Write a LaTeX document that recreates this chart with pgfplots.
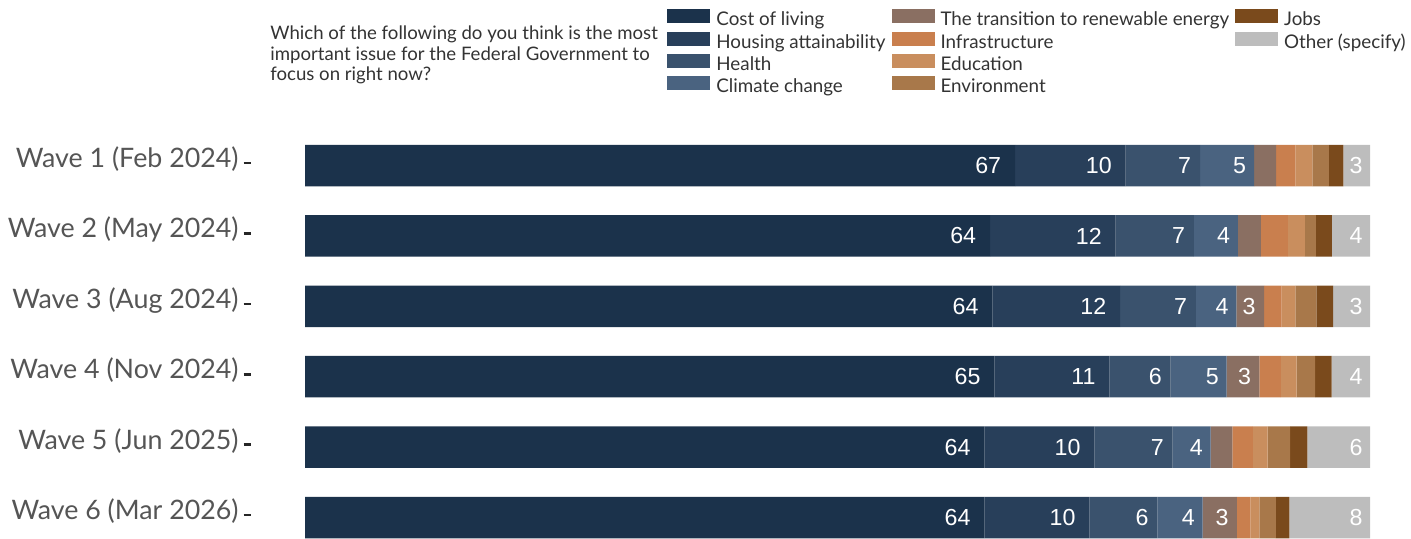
\documentclass[border=0pt]{standalone}
\usepackage{pgfplots}
\pgfplotsset{compat=1.18}
\usepackage{fontspec}
\setmainfont{Lato}
\newfontfamily\labfont{Liberation Sans}
\definecolor{cCost}{HTML}{1B324B}
\definecolor{cHous}{HTML}{283F5A}
\definecolor{cHeal}{HTML}{3A526D}
\definecolor{cClim}{HTML}{4A6380}
\definecolor{cTran}{HTML}{8A6F62}
\definecolor{cInfr}{HTML}{C97F4E}
\definecolor{cEduc}{HTML}{C98E5E}
\definecolor{cEnvi}{HTML}{A8784A}
\definecolor{cJobs}{HTML}{7A4A1C}
\definecolor{cOthe}{HTML}{BDBDBD}
\definecolor{tickgrey}{HTML}{555555}
\definecolor{txt}{HTML}{333333}
\newcommand{\mydash}{\hspace{2.5pt}\textcolor{black!85}{\rule[1.6pt]{3.5pt}{1.3pt}}}
\pgfplotsset{
  lab/.style={nodes near coords, point meta=explicit symbolic,
    visualization depends on=rawx \as \rawxval,
    every node near coord/.append style={anchor=east, xshift=\rawxval*2.6625pt-#1, inner sep=0pt,
      font=\labfont\fontsize{11.6}{12}\selectfont, text=white}},
  sw/.style={fill=#1, draw=none, legend image code/.code={\fill[#1] (0pt,-1.1pt) rectangle (21.5pt,5.9pt);}}
}
\begin{document}
\begin{tikzpicture}
\begin{axis}[
  at={(152.5pt,-7.35pt)}, anchor=south west,
  scale only axis, width=532.5pt, height=211.2pt,
  xbar stacked, bar width=20.75pt,
  xmin=0, xmax=100, ymin=0.5, ymax=6.5, y dir=reverse,
  clip=false,
  axis line style={draw=none}, tick style={draw=none},
  xtick=\empty, ytick={1,2,3,4,5,6},
  yticklabels={{Wave 1 (Feb 2024)\mydash},{Wave 2 (May 2024)\mydash},{Wave 3 (Aug 2024)\mydash},{Wave 4 (Nov 2024)\mydash},{Wave 5 (Jun 2025)\mydash},{Wave 6 (Mar 2026)\mydash}},
  y tick label style={anchor=base east, inner sep=0pt, xshift=-27pt, yshift=-1pt, font=\fontsize{13.4}{15}\selectfont, text=tickgrey},
  legend style={at={(0.3399,1.2871)}, anchor=north west, draw=none, fill=none, inner sep=0pt,
    font=\fontsize{9.4}{10}\selectfont, text=txt, column sep=1.5pt, row sep=-0.6pt,
    nodes={inner sep=1.5pt, text height=6.6pt, text depth=1.9pt}},
  legend columns=4, transpose legend, legend cell align=left,
]
\addplot+[sw=cCost, lab=6.75pt] coordinates {(66.67,1) [67] (64.32,2) [64] (64.54,3) [64] (64.73,4) [65] (63.79,5) [64] (63.79,6) [64]};
\addlegendentry{Cost of living}
\addplot+[sw=cHous, lab=6.75pt] coordinates {(10.39,1) [10] (11.80,2) [12] (11.99,3) [12] (10.80,4) [11] (10.33,5) [10] (9.86,6) [10]};
\addlegendentry{Housing attainability}
\addplot+[sw=cHeal, lab=4.25pt] coordinates {(6.98,1) [7] (7.35,2) [7] (7.13,3) [7] (5.75,4) [6] (7.35,5) [7] (6.38,6) [6]};
\addlegendentry{Health}
\addplot+[sw=cClim, lab=3.75pt] coordinates {(5.07,1) [5] (4.13,2) [4] (3.79,3) [4] (5.26,4) [5] (3.57,5) [4] (4.26,6) [4]};
\addlegendentry{Climate change}
\addplot+[sw=cTran, lab=4pt] coordinates {(2.07,1) [] (2.16,2) [] (2.60,3) [3] (3.07,4) [3] (2.03,5) [] (3.22,6) [3]};
\addlegendentry{The transition to renewable energy}
\addplot+[sw=cInfr] coordinates {(1.81,1) (2.53,2) (1.66,3) (2.03,4) (1.94,5) (1.25,6)};
\addlegendentry{Infrastructure}
\addplot+[sw=cEduc] coordinates {(1.60,1) (1.60,2) (1.28,3) (1.48,4) (1.38,5) (0.85,6)};
\addlegendentry{Education}
\addplot+[sw=cEnvi] coordinates {(1.54,1) (1.03,2) (1.97,3) (1.72,4) (2.10,5) (1.56,6)};
\addlegendentry{Environment}
\addplot+[sw=cJobs] coordinates {(1.37,1) (1.50,2) (1.57,3) (1.56,4) (1.62,5) (1.25,6)};
\addlegendentry{Jobs}
\addplot+[sw=cOthe, lab=3.5pt] coordinates {(2.50,1) [3] (3.58,2) [4] (3.47,3) [3] (3.60,4) [4] (5.89,5) [6] (7.58,6) [8]};
\addlegendentry{Other (specify)}
\addlegendimage{empty legend}\addlegendentry{}
\addlegendimage{empty legend}\addlegendentry{}
\end{axis}
\node[anchor=north west, align=left, inner sep=0pt, font=\fontsize{9.3}{10.3}\selectfont, text=txt] at (135pt,256.3pt)
  {Which of the following do you think is the most\\important issue for the Federal Government to\\focus on right now?};
\pgfresetboundingbox
\path[use as bounding box] (0,0) rectangle (705.5pt,269pt);
\end{tikzpicture}
\end{document}
